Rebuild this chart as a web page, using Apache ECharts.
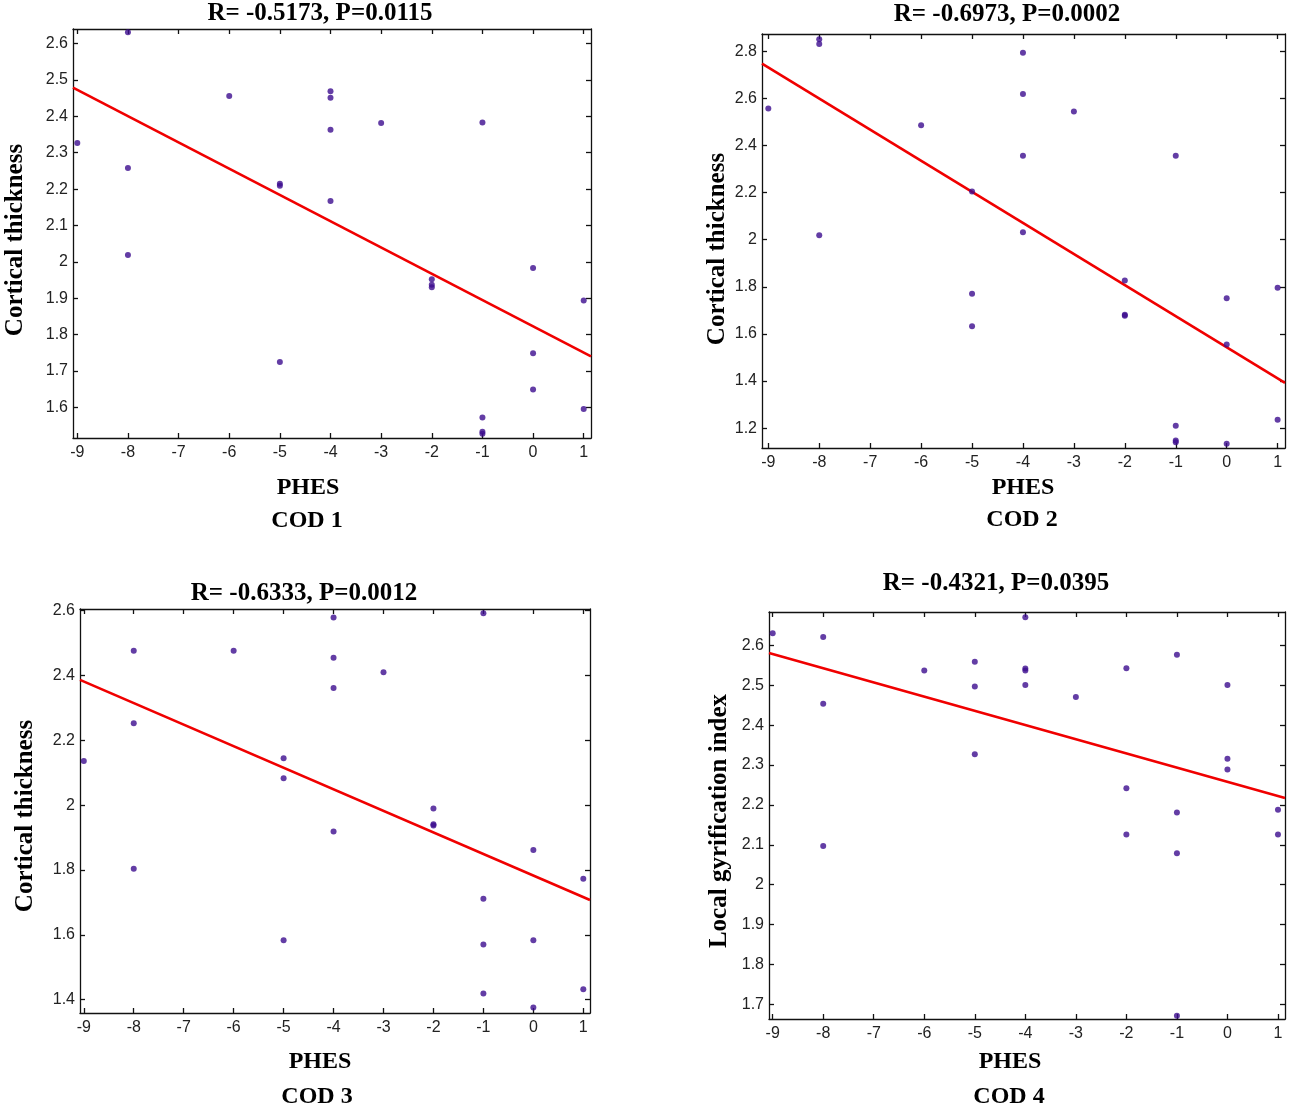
<!DOCTYPE html>
<html>
<head>
<meta charset="utf-8">
<script src="https://cdn.jsdelivr.net/npm/echarts@6/dist/echarts.min.js"></script>
<style>
html,body{margin:0;padding:0;background:#fff;}
#chart{width:1300px;height:1113px;}
</style>
</head>
<body>
<div id="chart"></div>
<script>
// ---- Data ----
const xTicks = [-9,-8,-7,-6,-5,-4,-3,-2,-1,0,1];

const cod1Points = [
  [-9,2.327],
  [-8,2.631],[-8,2.258],[-8,2.019],
  [-6,2.456],
  [-5,2.215],[-5,2.209],[-5,1.725],
  [-4,2.469],[-4,2.451],[-4,2.363],[-4,2.167],
  [-3,2.382],
  [-2,1.952],[-2,1.937],[-2,1.930],
  [-1,2.383],[-1,1.572],[-1,1.533],[-1,1.528],
  [0,1.983],[0,1.749],[0,1.649],
  [1,1.894],[1,1.596]
];
const cod2Points = [
  [-9,2.557],
  [-8,2.851],[-8,2.831],[-8,2.019],
  [-6,2.486],
  [-5,2.204],[-5,1.770],[-5,1.632],
  [-4,2.793],[-4,2.618],[-4,2.356],[-4,2.031],
  [-3,2.544],
  [-2,1.827],[-2,1.681],[-2,1.677],
  [-1,2.356],[-1,1.210],[-1,1.147],[-1,1.140],
  [0,1.751],[0,1.555],[0,1.134],
  [1,1.796],[1,1.235]
];
const cod3Points = [
  [-9,2.136],
  [-8,2.476],[-8,2.253],[-8,1.804],
  [-6,2.476],
  [-5,2.145],[-5,2.083],[-5,1.583],
  [-4,2.579],[-4,2.455],[-4,2.361],[-4,1.919],
  [-3,2.410],
  [-2,1.990],[-2,1.941],[-2,1.937],
  [-1,2.592],[-1,1.711],[-1,1.570],[-1,1.419],
  [0,1.862],[0,1.583],[0,1.376],
  [1,1.773],[1,1.432]
];
const cod4Points = [
  [-9,2.631],
  [-8,2.621],[-8,2.454],[-8,2.097],
  [-6,2.537],
  [-5,2.559],[-5,2.497],[-5,2.327],
  [-4,2.671],[-4,2.542],[-4,2.537],[-4,2.501],
  [-3,2.471],
  [-2,2.543],[-2,2.242],[-2,2.126],
  [-1,2.577],[-1,2.181],[-1,2.079],[-1,1.671],
  [0,2.501],[0,2.316],[0,2.289],
  [1,2.188],[1,2.126]
];

// fitted lines: intercept, slope
const fitIntercepts = [1.823, 1.543, 1.783, 2.258];
const fitSlopes = [-0.0722, -0.132, -0.0665, -0.0356];

const titles = ['R= -0.5173, P=0.0115','R= -0.6973, P=0.0002','R= -0.6333, P=0.0012','R= -0.4321, P=0.0395'];
const codLabels = ['COD 1','COD 2','COD 3','COD 4'];
const yNames = ['Cortical thickness','Cortical thickness','Cortical thickness','Local gyrification index'];
const xName = 'PHES';

const yTicks1 = [1.6,1.7,1.8,1.9,2.0,2.1,2.2,2.3,2.4,2.5,2.6];
const yTicks2 = [1.2,1.4,1.6,1.8,2.0,2.2,2.4,2.6,2.8];
const yTicks3 = [1.4,1.6,1.8,2.0,2.2,2.4,2.6];
const yTicks4 = [1.7,1.8,1.9,2.0,2.1,2.2,2.3,2.4,2.5,2.6];

// ---- Layout ----
const panels = [
  {grid:{left:73, top:29, width:518, height:409}, xr:[-9.085,1.144], yr:[1.516,2.640], pts:cod1Points, yt:yTicks1,
   title:[320,14], phes:[308,488], cod:[307,521], yname:[16,240]},
  {grid:{left:762, top:34, width:523, height:414}, xr:[-9.124,1.145], yr:[1.1155,2.873], pts:cod2Points, yt:yTicks2,
   title:[1007,15], phes:[1023,488], cod:[1022,520], yname:[718,249]},
  {grid:{left:80, top:609, width:510, height:404}, xr:[-9.076,1.134], yr:[1.359,2.605], pts:cod3Points, yt:yTicks3,
   title:[304,594], phes:[320,1062], cod:[317,1097], yname:[26,816]},
  {grid:{left:769, top:612, width:516, height:407}, xr:[-9.073,1.139], yr:[1.663,2.684], pts:cod4Points, yt:yTicks4,
   title:[996,584], phes:[1010,1062], cod:[1009,1097], yname:[720,821]}
];

const tickFont = {fontFamily:'Liberation Sans, Arial, sans-serif', fontSize:16, color:'#222'};
const lineStyleAxis = {color:'#111', width:1.3};
const fmt = v => String(+(+v).toFixed(2));

const grids=[], xAxes=[], yAxes=[], series=[], graphics=[];
panels.forEach((p,i)=>{
  grids.push(Object.assign({containLabel:false}, p.grid));
  const base = {type:'value', gridIndex:i, min:p.xr[0], max:p.xr[1], splitLine:{show:false},
    axisLine:{show:true, onZero:false, lineStyle:lineStyleAxis}};
  xAxes.push(Object.assign({}, base, {position:'bottom',
    axisTick:{show:true, inside:true, length:5, customValues:xTicks, lineStyle:lineStyleAxis},
    axisLabel:Object.assign({show:true, margin:7, customValues:xTicks, formatter:fmt}, tickFont)}));
  xAxes.push(Object.assign({}, base, {position:'top',
    axisTick:{show:true, inside:true, length:5, customValues:xTicks, lineStyle:lineStyleAxis},
    axisLabel:{show:false}}));
  const ybase = {type:'value', gridIndex:i, min:p.yr[0], max:p.yr[1], splitLine:{show:false},
    axisLine:{show:true, onZero:false, lineStyle:lineStyleAxis}};
  yAxes.push(Object.assign({}, ybase, {position:'left',
    axisTick:{show:true, inside:true, length:5, customValues:p.yt, lineStyle:lineStyleAxis},
    axisLabel:Object.assign({show:true, margin:5, customValues:p.yt, formatter:fmt}, tickFont)}));
  yAxes.push(Object.assign({}, ybase, {position:'right',
    axisTick:{show:true, inside:true, length:5, customValues:p.yt, lineStyle:lineStyleAxis},
    axisLabel:{show:false}}));

  const a = fitIntercepts[i], b = fitSlopes[i];
  series.push({type:'line', xAxisIndex:2*i, yAxisIndex:2*i, showSymbol:false, symbol:'none', silent:true,
    data:[[p.xr[0], a+b*p.xr[0]],[p.xr[1], a+b*p.xr[1]]],
    lineStyle:{color:'#f00000', width:2.6}, clip:true, z:2});
  series.push({type:'scatter', xAxisIndex:2*i, yAxisIndex:2*i, data:p.pts, symbol:'circle', symbolSize:6,
    itemStyle:{color:'#3c0c8e'}, clip:true, z:3});

  const serif = 'Liberation Serif, Times New Roman, serif';
  graphics.push({type:'text', x:p.title[0], y:p.title[1], style:{text:titles[i], font:'bold 25px '+serif, fill:'#000', textAlign:'center', textVerticalAlign:'middle'}});
  graphics.push({type:'text', x:p.phes[0], y:p.phes[1], style:{text:xName, font:'bold 24px '+serif, fill:'#000', textAlign:'center', textVerticalAlign:'middle'}});
  graphics.push({type:'text', x:p.cod[0], y:p.cod[1], style:{text:codLabels[i], font:'bold 24px '+serif, fill:'#000', textAlign:'center', textVerticalAlign:'middle'}});
  graphics.push({type:'text', x:p.yname[0], y:p.yname[1], rotation:Math.PI/2, style:{text:yNames[i], font:'bold 25px '+serif, fill:'#000', textAlign:'center', textVerticalAlign:'middle'}});
});

const chart = echarts.init(document.getElementById('chart'), null, {renderer:'canvas'});
chart.setOption({
  animation:false,
  backgroundColor:'#fff',
  grid:grids, xAxis:xAxes, yAxis:yAxes, series:series, graphic:graphics
});
</script>
</body>
</html>
